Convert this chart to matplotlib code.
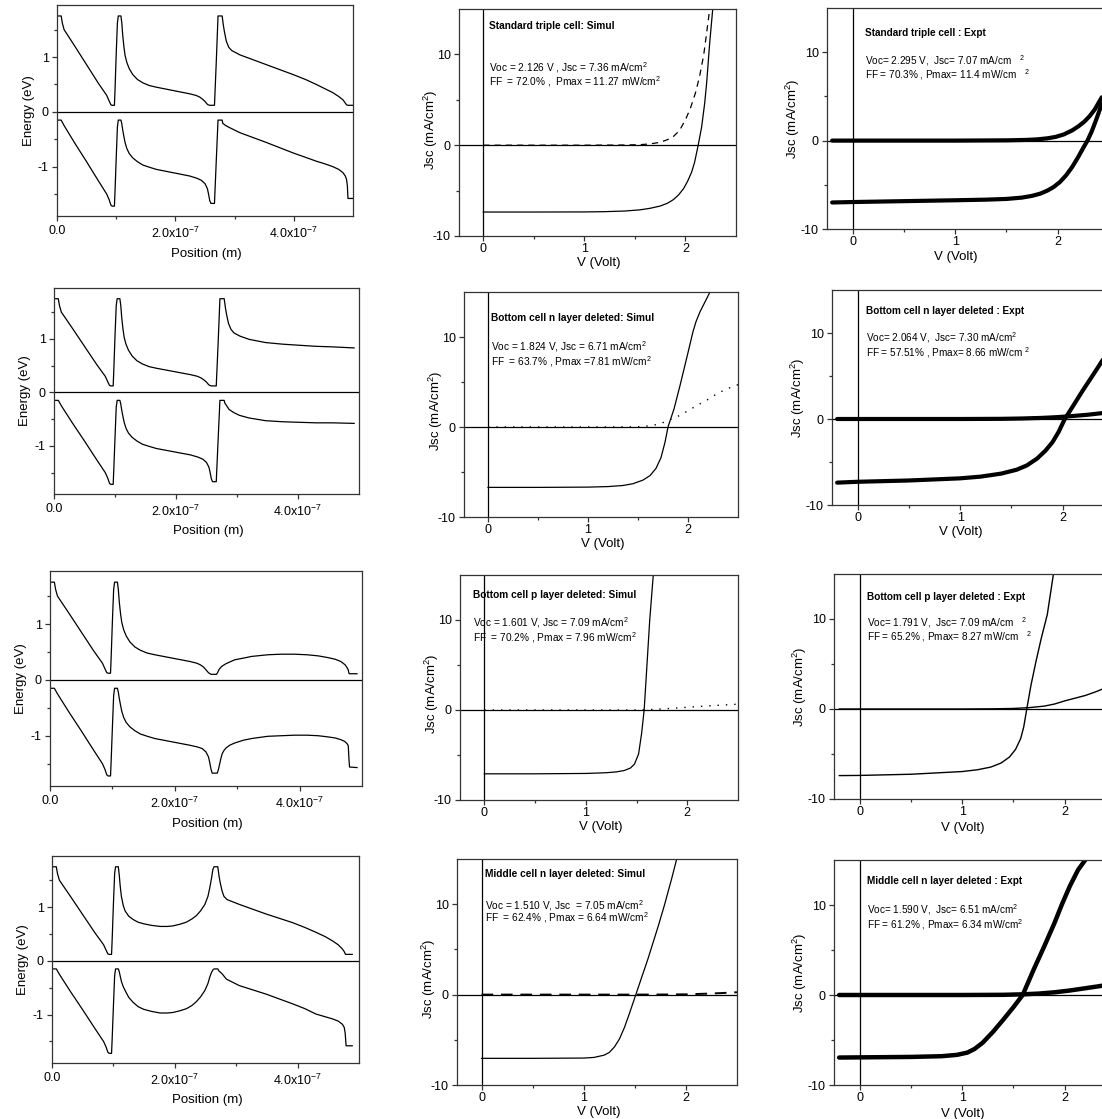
"""plot.py
Band diagrams and J-V curves for the triple cell and three
layer-deleted variants (simulation vs experiment).
"""
import matplotlib
matplotlib.use("Agg")
import matplotlib.pyplot as plt
from matplotlib.ticker import FixedLocator

plt.rcParams['font.family'] = ['Liberation Sans', 'DejaVu Sans']
plt.rcParams['mathtext.fontset'] = 'custom'
plt.rcParams['mathtext.rm'] = 'Liberation Sans'
plt.rcParams['mathtext.it'] = 'Liberation Sans:italic'
plt.rcParams['mathtext.bf'] = 'Liberation Sans:bold'
plt.rcParams['axes.unicode_minus'] = False

# ---------------------------------------------------------------
# Band diagram data, position in units of 1e-7 m, energy in eV
# ---------------------------------------------------------------
# top cell part, same in all four structures
front_x  = [0.00, 0.07, 0.09, 0.12, 0.30, 0.50, 0.70, 0.84, 0.88, 0.91, 0.93, 0.97, 0.98, 1.00, 1.02, 1.035, 1.08]
front_ec = [1.75, 1.75, 1.62, 1.50, 1.20, 0.86, 0.52, 0.30, 0.20, 0.13, 0.12, 0.12, 0.40, 1.05, 1.62, 1.75, 1.75]
front_ev = [-0.15, -0.15, -0.19, -0.25, -0.57, -0.91, -1.26, -1.50, -1.60, -1.70, -1.72, -1.72, -1.45, -0.85, -0.28, -0.15, -0.15]

# middle cell part for standard cell and bottom-n deleted
mid_x  = [1.095, 1.11, 1.13, 1.15, 1.18, 1.22, 1.28, 1.36, 1.45, 1.56, 1.68, 1.82, 1.96, 2.10, 2.24,
          2.35, 2.41, 2.46, 2.50, 2.53, 2.55, 2.58, 2.66, 2.69, 2.72, 2.79]
mid_ec = [1.62, 1.40, 1.19, 1.03, 0.90, 0.79, 0.68, 0.59, 0.53, 0.48, 0.45, 0.42, 0.39, 0.36, 0.33,
          0.30, 0.27, 0.23, 0.19, 0.15, 0.13, 0.12, 0.12, 0.90, 1.75, 1.75]
mid_ev_x = [1.095, 1.11, 1.13, 1.15, 1.18, 1.22, 1.28, 1.36, 1.45, 1.56, 1.68, 1.82, 1.96, 2.10, 2.24,
            2.36, 2.44, 2.50, 2.54, 2.56, 2.58, 2.60, 2.66, 2.69, 2.72, 2.79]
mid_ev = [-0.22, -0.33, -0.45, -0.56, -0.67, -0.76, -0.84, -0.91, -0.97, -1.01, -1.05, -1.08, -1.11, -1.14, -1.17,
          -1.21, -1.25, -1.31, -1.40, -1.50, -1.62, -1.67, -1.67, -0.90, -0.15, -0.15]

# row 1: standard triple cell, bottom cell tail
std_tail_x  = [2.81, 2.83, 2.86, 2.90, 2.95, 3.09, 3.54, 3.99, 4.20, 4.38, 4.53, 4.66, 4.76, 4.83, 4.87, 4.89, 4.91, 5.00]
std_tail_ec = [1.58, 1.45, 1.29, 1.18, 1.12, 1.04, 0.86, 0.68, 0.59, 0.50, 0.42, 0.35, 0.28, 0.22, 0.16, 0.13, 0.12, 0.12]
std_tail_ev_x = [2.80, 2.85, 2.92, 3.09, 3.54, 3.99, 4.20, 4.38, 4.53, 4.66, 4.76, 4.83, 4.87, 4.89, 4.905, 4.915, 5.00]
std_tail_ev = [-0.21, -0.25, -0.29, -0.38, -0.56, -0.75, -0.83, -0.90, -0.95, -1.00, -1.05, -1.11, -1.17, -1.23,
               -1.35, -1.58, -1.58]

# row 2: bottom cell n layer deleted
bn_tail_x  = [2.81, 2.83, 2.86, 2.90, 2.95, 3.05, 3.20, 3.47, 3.75, 4.02, 4.30, 4.56, 4.92]
bn_tail_ec = [1.58, 1.45, 1.29, 1.18, 1.11, 1.05, 0.99, 0.93, 0.90, 0.88, 0.86, 0.85, 0.83]
bn_tail_ev_x = [2.80, 2.83, 2.87, 2.95, 3.04, 3.20, 3.47, 3.75, 4.02, 4.30, 4.56, 4.92]
bn_tail_ev = [-0.20, -0.25, -0.32, -0.38, -0.43, -0.48, -0.53, -0.55, -0.56, -0.57, -0.57, -0.58]

# row 3: bottom cell p layer deleted (after top cell)
bp_x  = [1.095, 1.11, 1.13, 1.15, 1.18, 1.22, 1.28, 1.36, 1.45, 1.56, 1.68, 1.82, 1.96, 2.10, 2.24,
         2.35, 2.41, 2.46, 2.50, 2.53, 2.55, 2.58, 2.67, 2.69, 2.71, 2.75, 2.82, 2.90, 2.96, 3.10, 3.23,
         3.49, 3.70, 3.92, 4.12, 4.30, 4.45, 4.57, 4.66, 4.73, 4.76, 4.78, 4.79, 4.80, 4.92]
bp_ec = [1.62, 1.40, 1.19, 1.03, 0.90, 0.79, 0.68, 0.59, 0.53, 0.48, 0.45, 0.42, 0.39, 0.36, 0.33,
         0.30, 0.27, 0.23, 0.18, 0.14, 0.12, 0.10, 0.10, 0.14, 0.19, 0.24, 0.29, 0.33, 0.36, 0.39, 0.42,
         0.45, 0.46, 0.46, 0.45, 0.43, 0.40, 0.37, 0.33, 0.27, 0.22, 0.18, 0.12, 0.11, 0.11]
bp_ev_x = [1.095, 1.11, 1.13, 1.15, 1.18, 1.22, 1.28, 1.36, 1.45, 1.56, 1.68, 1.82, 1.96, 2.10, 2.24,
           2.36, 2.44, 2.50, 2.54, 2.56, 2.58, 2.60, 2.68, 2.70, 2.72, 2.74, 2.76, 2.79, 2.82, 2.88, 2.96,
           3.10, 3.23, 3.49, 3.70, 3.92, 4.12, 4.30, 4.45, 4.57, 4.66, 4.72, 4.76, 4.78, 4.79, 4.80, 4.92]
bp_ev = [-0.22, -0.33, -0.45, -0.56, -0.67, -0.76, -0.84, -0.91, -0.97, -1.01, -1.05, -1.08, -1.11, -1.14, -1.17,
         -1.20, -1.23, -1.29, -1.38, -1.48, -1.60, -1.67, -1.67, -1.60, -1.50, -1.40, -1.32, -1.26, -1.22, -1.17,
         -1.13, -1.08, -1.05, -1.01, -1.00, -0.99, -0.99, -1.00, -1.02, -1.04, -1.07, -1.10, -1.14, -1.18, -1.40,
         -1.56, -1.57]

# row 4: middle cell n layer deleted (after top cell)
mn_x  = [1.095, 1.11, 1.13, 1.16, 1.19, 1.25, 1.32, 1.40, 1.49, 1.62, 1.76, 1.88, 1.97, 2.08, 2.19, 2.28,
         2.35, 2.42, 2.49, 2.54, 2.57, 2.60, 2.62, 2.64, 2.70, 2.72, 2.74, 2.77, 2.80, 2.85, 3.05, 3.49,
         3.92, 4.12, 4.30, 4.45, 4.57, 4.66, 4.73, 4.76, 4.78, 4.89]
mn_ec = [1.60, 1.40, 1.20, 1.03, 0.93, 0.83, 0.77, 0.72, 0.69, 0.66, 0.64, 0.64, 0.65, 0.68, 0.72, 0.78,
         0.84, 0.93, 1.05, 1.20, 1.36, 1.55, 1.70, 1.75, 1.75, 1.58, 1.45, 1.30, 1.20, 1.14, 1.05, 0.87,
         0.71, 0.62, 0.53, 0.45, 0.37, 0.30, 0.22, 0.17, 0.12, 0.12]
mn_ev_x = [1.095, 1.11, 1.13, 1.16, 1.19, 1.25, 1.32, 1.40, 1.49, 1.62, 1.76, 1.88, 1.97, 2.08, 2.19, 2.28,
           2.35, 2.42, 2.49, 2.54, 2.57, 2.60, 2.62, 2.64, 2.70, 2.72, 2.77, 2.84, 3.05, 3.49, 3.92, 4.12,
           4.30, 4.45, 4.57, 4.66, 4.73, 4.76, 4.775, 4.79, 4.89]
mn_ev = [-0.20, -0.28, -0.38, -0.48, -0.55, -0.68, -0.77, -0.85, -0.90, -0.94, -0.97, -0.97, -0.96, -0.93,
         -0.89, -0.83, -0.76, -0.67, -0.55, -0.42, -0.30, -0.21, -0.17, -0.15, -0.15, -0.19, -0.24, -0.34,
         -0.46, -0.62, -0.80, -0.89, -0.99, -1.04, -1.08, -1.12, -1.18, -1.24, -1.35, -1.58, -1.58]

# ---------------------------------------------------------------
# J-V data, V in volt, J in mA/cm2
# ---------------------------------------------------------------
sim_std_light_v = [0.0, 0.5, 1.0, 1.2, 1.4, 1.55, 1.65, 1.75, 1.82, 1.88, 1.93, 1.98, 2.02, 2.06, 2.09,
                   2.126, 2.16, 2.19, 2.21, 2.24, 2.27]
sim_std_light_j = [-7.36, -7.36, -7.35, -7.32, -7.25, -7.12, -6.95, -6.7, -6.4, -6.0, -5.5, -4.8, -4.0, -3.0,
                   -1.9, 0.0, 2.0, 4.6, 6.9, 11.3, 15.0]
sim_std_dark_v = [0.0, 1.0, 1.4, 1.55, 1.65, 1.75, 1.82, 1.88, 1.94, 2.0, 2.05, 2.1, 2.14, 2.18, 2.21, 2.24]
sim_std_dark_j = [0.0, 0.0, 0.02, 0.06, 0.14, 0.32, 0.6, 0.95, 1.6, 2.8, 4.1, 5.8, 7.6, 9.9, 12.4, 15.0]

sim_bn_light_v = [0.0, 0.5, 1.0, 1.2, 1.35, 1.45, 1.55, 1.62, 1.68, 1.73, 1.77, 1.80, 1.86, 1.92, 1.99,
                  2.05, 2.08, 2.12, 2.17, 2.22]
sim_bn_light_j = [-6.71, -6.71, -6.68, -6.62, -6.5, -6.3, -5.9, -5.4, -4.6, -3.4, -1.7, 0.0, 2.0, 4.6, 7.8,
                  10.6, 11.7, 12.8, 13.9, 15.0]
sim_bn_dark_v = [0.0, 1.0, 1.45, 1.55, 1.65, 1.73, 1.82, 1.92, 2.0, 2.09, 2.19, 2.29, 2.38, 2.5]
sim_bn_dark_j = [0.0, 0.0, 0.01, 0.05, 0.18, 0.4, 0.8, 1.3, 1.8, 2.4, 3.0, 3.7, 4.2, 4.7]

sim_bp_light_v = [0.0, 0.5, 1.0, 1.2, 1.3, 1.38, 1.44, 1.48, 1.52, 1.55, 1.575, 1.60, 1.63, 1.665]
sim_bp_light_j = [-7.09, -7.09, -7.05, -6.97, -6.88, -6.72, -6.45, -6.0, -4.9, -2.6, 0.0, 4.5, 10.0, 15.0]
sim_bp_dark_v = [0.0, 1.0, 1.5, 1.6, 1.7, 1.8, 1.9, 2.0, 2.1, 2.2, 2.35, 2.5]
sim_bp_dark_j = [0.0, 0.0, 0.0, 0.03, 0.08, 0.15, 0.22, 0.3, 0.38, 0.45, 0.55, 0.65]

sim_mn_light_v = [0.0, 0.5, 1.0, 1.1, 1.2, 1.25, 1.30, 1.35, 1.40, 1.45, 1.51, 1.57, 1.63, 1.68, 1.73,
                  1.79, 1.86, 1.91]
sim_mn_light_j = [-7.05, -7.05, -7.02, -6.95, -6.7, -6.4, -5.8, -4.9, -3.6, -2.0, 0.0, 2.0, 4.0, 5.8, 7.6,
                  9.9, 12.8, 15.0]
sim_mn_dark_v = [0.0, 1.5, 1.8, 2.0, 2.2, 2.35, 2.5]
sim_mn_dark_j = [0.0, 0.0, 0.01, 0.03, 0.1, 0.17, 0.26]

exp_std_light_v = [-0.2, 0.0, 0.5, 1.0, 1.3, 1.5, 1.65, 1.75, 1.83, 1.9, 1.96, 2.02, 2.08, 2.14, 2.2,
                   2.25, 2.29, 2.33, 2.37, 2.41, 2.43]
exp_std_light_j = [-7.0, -6.95, -6.85, -6.75, -6.68, -6.6, -6.45, -6.25, -6.0, -5.65, -5.25, -4.7, -3.95,
                   -3.0, -1.85, -0.8, 0.0, 1.0, 2.2, 3.5, 4.2]
exp_std_dark_v = [-0.2, 0.0, 1.0, 1.5, 1.7, 1.8, 1.9, 1.98, 2.06, 2.14, 2.2, 2.26, 2.31, 2.36, 2.4, 2.43]
exp_std_dark_j = [0.0, 0.0, 0.0, 0.03, 0.08, 0.14, 0.26, 0.42, 0.7, 1.15, 1.6, 2.15, 2.75, 3.5, 4.3, 4.9]

exp_bn_light_v = [-0.2, 0.0, 0.5, 1.0, 1.2, 1.4, 1.55, 1.65, 1.75, 1.83, 1.9, 1.96, 2.02, 2.1, 2.2, 2.3, 2.43]
exp_bn_light_j = [-7.4, -7.3, -7.15, -6.9, -6.7, -6.35, -5.9, -5.4, -4.6, -3.7, -2.7, -1.5, 0.0, 1.5, 3.4,
                  5.2, 7.6]
exp_bn_dark_v = [-0.2, 0.0, 1.0, 1.4, 1.6, 1.8, 1.95, 2.1, 2.25, 2.43]
exp_bn_dark_j = [0.0, 0.0, 0.0, 0.02, 0.06, 0.13, 0.22, 0.35, 0.5, 0.75]

exp_bp_light_v = [-0.2, 0.0, 0.5, 1.0, 1.15, 1.28, 1.38, 1.46, 1.52, 1.57, 1.60, 1.63, 1.67, 1.72, 1.77,
                  1.83, 1.89]
exp_bp_light_j = [-7.4, -7.38, -7.25, -6.95, -6.75, -6.45, -6.0, -5.35, -4.5, -3.3, -2.0, 0.0, 2.6, 5.3,
                  7.8, 10.5, 15.0]
exp_bp_dark_v = [-0.2, 0.0, 1.0, 1.3, 1.5, 1.65, 1.8, 1.9, 2.0, 2.1, 2.2, 2.3, 2.43]
exp_bp_dark_j = [0.0, 0.0, 0.0, 0.02, 0.06, 0.15, 0.32, 0.55, 0.9, 1.2, 1.5, 1.9, 2.5]

exp_mn_light_v = [-0.2, 0.0, 0.5, 0.8, 0.95, 1.05, 1.12, 1.2, 1.3, 1.4, 1.5, 1.59, 1.7, 1.8, 1.9, 1.97,
                  2.05, 2.13, 2.2]
exp_mn_light_j = [-6.95, -6.93, -6.88, -6.8, -6.65, -6.4, -6.0, -5.3, -4.1, -2.75, -1.35, 0.0, 2.9, 5.4,
                  8.0, 10.0, 12.1, 13.9, 15.0]
exp_mn_dark_v = [-0.2, 0.0, 1.0, 1.4, 1.6, 1.75, 1.9, 2.05, 2.2, 2.32, 2.43]
exp_mn_dark_j = [0.0, 0.0, 0.0, 0.02, 0.08, 0.16, 0.3, 0.5, 0.75, 0.95, 1.15]

# annotation texts
sim_titles = ["Standard triple cell: Simul", "Bottom cell n layer deleted: Simul",
              "Bottom cell p layer deleted: Simul", "Middle cell n layer deleted: Simul"]
sim_line1 = ["Voc = 2.126 V , Jsc = 7.36 mA/cm$^2$", "Voc = 1.824 V, Jsc = 6.71 mA/cm$^2$",
             "Voc = 1.601 V, Jsc = 7.09 mA/cm$^2$", "Voc = 1.510 V, Jsc  = 7.05 mA/cm$^2$"]
sim_line2 = ["FF  = 72.0% ,  Pmax = 11.27 mW/cm$^2$", "FF  = 63.7% , Pmax =7.81 mW/cm$^2$",
             "FF  = 70.2% , Pmax = 7.96 mW/cm$^2$", "FF  = 62.4% , Pmax = 6.64 mW/cm$^2$"]
exp_titles = ["Standard triple cell : Expt", "Bottom cell n layer deleted : Expt",
              "Bottom cell p layer deleted : Expt", "Middle cell n layer deleted : Expt"]
exp_line1 = ["Voc= 2.295 V,  Jsc= 7.07 mA/cm   $^2$", "Voc= 2.064 V,  Jsc= 7.30 mA/cm$^2$",
             "Voc= 1.791 V,  Jsc= 7.09 mA/cm   $^2$", "Voc= 1.590 V,  Jsc= 6.51 mA/cm$^2$"]
exp_line2 = ["FF = 70.3% , Pmax= 11.4 mW/cm   $^2$", "FF = 57.51% , Pmax= 8.66 mW/cm $^2$",
             "FF = 65.2% , Pmax= 8.27 mW/cm   $^2$", "FF = 61.2% , Pmax= 6.34 mW/cm$^2$"]

# ---------------------------------------------------------------
# layout (pixel boxes: left, top, right, bottom)
# ---------------------------------------------------------------
W, H = 1102, 1119
left_boxes = [(57, 5, 353, 216), (54, 288, 359, 494), (50, 571, 362, 786), (52, 856, 359, 1063)]
mid_boxes = [(459, 9, 736, 236), (464, 292, 738, 517), (460, 575, 738, 800), (457, 859, 737, 1085)]
right_boxes = [(827, 8, 1109, 229), (832, 290, 1114, 505), (834, 574, 1116, 799), (834, 860, 1116, 1085)]
sim_text_pos = [(0.11, 0.925, 0.74, 0.68), (0.10, 0.884, 0.756, 0.69),
                (0.047, 0.91, 0.787, 0.72), (0.10, 0.934, 0.796, 0.739)]
exp_text_pos = [(0.135, 0.887, 0.76, 0.70), (0.12, 0.90, 0.777, 0.707),
                (0.118, 0.898, 0.784, 0.722), (0.118, 0.907, 0.78, 0.711)]
sim_dark_style = [(0, (5, 4)), (0, (1, 5)), (0, (1, 5)), (0, (6, 4))]
sim_dark_lw = [0.9, 1.0, 1.0, 1.4]
exp_lw = [3.0, 3.0, 1.0, 3.2]

SPINE = '#333333'


def add_box(fig, box):
    l, t, r, b = box
    return fig.add_axes([l / W, 1 - b / H, (r - l) / W, (b - t) / H])


def style_axes(ax):
    for s in ax.spines.values():
        s.set_color(SPINE)
        s.set_linewidth(0.9)
    ax.tick_params(which='both', direction='out', top=False, right=False,
                   colors=SPINE, labelcolor='black', width=0.9, labelsize=9, pad=2.0)
    ax.tick_params(which='major', length=3.8)
    ax.tick_params(which='minor', length=2.2)


def band_panel(ax, ec_x, ec, ev_x, ev):
    ax.plot([p * 1e-7 for p in ec_x], ec, color='black', lw=0.9)
    ax.plot([p * 1e-7 for p in ev_x], ev, color='black', lw=0.9)
    ax.axhline(0, color='black', lw=0.9)
    ax.set_xlim(0, 5e-7)
    ax.set_ylim(-1.9, 1.95)
    ax.xaxis.set_major_locator(FixedLocator([0, 2e-7, 4e-7]))
    ax.set_xticklabels(["0.0", "2.0x10$^{-7}$", "4.0x10$^{-7}$"])
    ax.xaxis.set_minor_locator(FixedLocator([1e-7, 3e-7]))
    ax.yaxis.set_major_locator(FixedLocator([-1, 0, 1]))
    ax.yaxis.set_minor_locator(FixedLocator([-1.5, -0.5, 0.5, 1.5]))
    style_axes(ax)
    ax.tick_params(axis='x', pad=3.0)
    ax.set_xlabel("Position (m)", fontsize=9.5)
    ax.set_ylabel("Energy (eV)", fontsize=9.5)
    ax.xaxis.set_label_coords(0.505, -0.15)
    ax.yaxis.set_label_coords(-0.075, 0.5)


def jv_panel(ax, xmin):
    ax.axhline(0, color='black', lw=0.9)
    ax.axvline(0, color='black', lw=0.9)
    ax.set_xlim(xmin, 2.5)
    ax.set_ylim(-10, 15)
    ax.xaxis.set_major_locator(FixedLocator([0, 1, 2]))
    ax.xaxis.set_minor_locator(FixedLocator([0.5, 1.5]))
    ax.yaxis.set_major_locator(FixedLocator([-10, 0, 10]))
    ax.yaxis.set_minor_locator(FixedLocator([-5, 5]))
    style_axes(ax)
    ax.tick_params(axis='x', pad=1.0)
    ax.set_xlabel("V (Volt)", fontsize=9.5)
    ax.set_ylabel("Jsc (mA/cm$^2$)", fontsize=9.5)


def annotate(ax, pos, title, l1, l2, size):
    tx, ty, y1, y2 = pos
    ax.text(tx, ty, title, transform=ax.transAxes, fontsize=size,
            fontweight='bold', va='center', ha='left')
    ax.text(tx, y1, l1, transform=ax.transAxes, fontsize=size, va='center', ha='left')
    ax.text(tx, y2, l2, transform=ax.transAxes, fontsize=size, va='center', ha='left')


fig = plt.figure(figsize=(W / 100, H / 100), dpi=100)

band_sets = [
    (front_x + mid_x + std_tail_x, front_ec + mid_ec + std_tail_ec,
     front_x + mid_ev_x + std_tail_ev_x, front_ev + mid_ev + std_tail_ev),
    (front_x + mid_x + bn_tail_x, front_ec + mid_ec + bn_tail_ec,
     front_x + mid_ev_x + bn_tail_ev_x, front_ev + mid_ev + bn_tail_ev),
    (front_x + bp_x, front_ec + bp_ec, front_x + bp_ev_x, front_ev + bp_ev),
    (front_x + mn_x, front_ec + mn_ec, front_x + mn_ev_x, front_ev + mn_ev),
]
sim_sets = [
    (sim_std_light_v, sim_std_light_j, sim_std_dark_v, sim_std_dark_j),
    (sim_bn_light_v, sim_bn_light_j, sim_bn_dark_v, sim_bn_dark_j),
    (sim_bp_light_v, sim_bp_light_j, sim_bp_dark_v, sim_bp_dark_j),
    (sim_mn_light_v, sim_mn_light_j, sim_mn_dark_v, sim_mn_dark_j),
]
exp_sets = [
    (exp_std_light_v, exp_std_light_j, exp_std_dark_v, exp_std_dark_j),
    (exp_bn_light_v, exp_bn_light_j, exp_bn_dark_v, exp_bn_dark_j),
    (exp_bp_light_v, exp_bp_light_j, exp_bp_dark_v, exp_bp_dark_j),
    (exp_mn_light_v, exp_mn_light_j, exp_mn_dark_v, exp_mn_dark_j),
]

for r in range(4):
    # band diagram
    ax = add_box(fig, left_boxes[r])
    band_panel(ax, *band_sets[r])

    # simulated J-V
    ax = add_box(fig, mid_boxes[r])
    lv, lj, dv, dj = sim_sets[r]
    ax.plot(lv, lj, color='black', lw=0.9)
    ax.plot(dv, dj, color='black', lw=sim_dark_lw[r], linestyle=sim_dark_style[r])
    jv_panel(ax, -0.24)
    ax.xaxis.set_label_coords(0.505, -0.092)
    ax.yaxis.set_label_coords(-0.068, 0.47)
    annotate(ax, sim_text_pos[r], sim_titles[r], sim_line1[r], sim_line2[r], 7.3)

    # experimental J-V
    ax = add_box(fig, right_boxes[r])
    lv, lj, dv, dj = exp_sets[r]
    ax.plot(lv, lj, color='black', lw=exp_lw[r], solid_capstyle='round')
    ax.plot(dv, dj, color='black', lw=exp_lw[r], solid_capstyle='round')
    jv_panel(ax, -0.25)
    ax.xaxis.set_label_coords(0.455, -0.1)
    ax.yaxis.set_label_coords(-0.088, 0.5)
    annotate(ax, exp_text_pos[r], exp_titles[r], exp_line1[r], exp_line2[r], 7.2)

fig.savefig("out.png", dpi=100)
